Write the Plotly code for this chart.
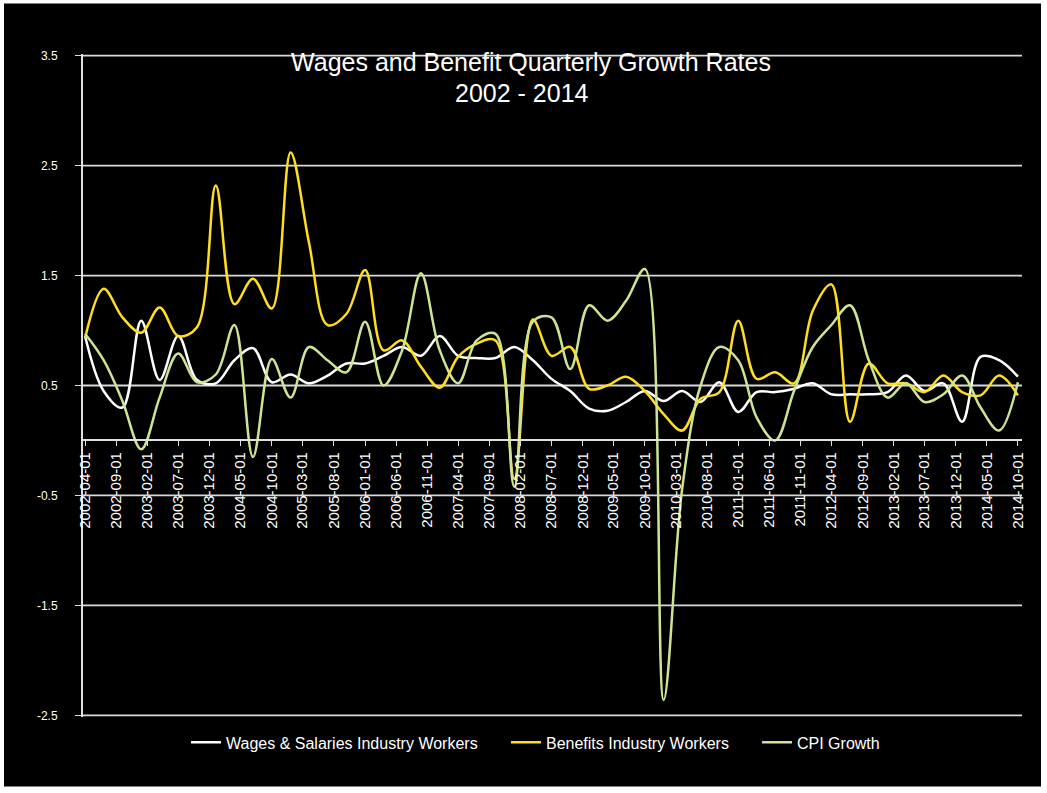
import pandas as pd
import plotly.graph_objects as go

# Quarterly observation dates (2002-04 .. 2014-10)
dates = pd.date_range("2002-04-01", "2014-10-01", freq="3MS")

wages = [0.95, 0.45, 0.30, 1.09, 0.55, 0.95, 0.55, 0.52, 0.73, 0.84,
         0.53, 0.60, 0.52, 0.59, 0.70, 0.70, 0.77, 0.85, 0.77, 0.95,
         0.77, 0.75, 0.75, 0.85, 0.73, 0.56, 0.45, 0.29, 0.27, 0.35,
         0.45, 0.36, 0.45, 0.35, 0.53, 0.26, 0.44, 0.44, 0.47, 0.52,
         0.42, 0.42, 0.42, 0.44, 0.59, 0.45, 0.52, 0.17, 0.76, 0.73,
         0.58]

benefits = [0.93, 1.38, 1.12, 0.98, 1.21, 0.95, 1.03, 2.32, 1.24, 1.47,
            1.20, 2.62, 1.80, 1.05, 1.15, 1.55, 0.82, 0.91, 0.67, 0.48,
            0.76, 0.88, 0.91, -0.35, 1.10, 0.77, 0.85, 0.47, 0.50, 0.58,
            0.45, 0.24, 0.09, 0.38, 0.44, 1.09, 0.56, 0.62, 0.52, 1.18,
            1.42, 0.17, 0.70, 0.52, 0.52, 0.44, 0.59, 0.44, 0.41, 0.59,
            0.41]

cpi = [0.97, 0.73, 0.36, -0.08, 0.39, 0.79, 0.53, 0.60, 1.05, -0.15,
       0.74, 0.39, 0.85, 0.73, 0.62, 1.08, 0.50, 0.82, 1.52, 0.82,
       0.52, 0.91, 0.97, -0.42, 1.08, 1.12, 0.65, 1.23, 1.09, 1.27,
       1.56, -2.36, -0.45, 0.50, 0.85, 0.73, 0.21, 0.00, 0.45, 0.85,
       1.05, 1.23, 0.73, 0.39, 0.52, 0.35, 0.42, 0.59, 0.30, 0.09,
       0.53]

series_names = ["Wages & Salaries Industry Workers",
                "Benefits Industry Workers",
                "CPI Growth"]
series_colors = ["#FFFFFF", "#FFDD22", "#CDE592"]
y_ticks = [-2.5, -1.5, -0.5, 0.5, 1.5, 2.5, 3.5]

title_line1 = "Wages and Benefit Quarterly Growth Rates"
title_line2 = "2002 - 2014"

FONT = "Liberation Sans, Arial, sans-serif"

# value range slightly padded so edge lines stay inside
Y0, Y1 = -2.515, 3.515
ppu = (715 - 56) / 6.0
L, R = 83, 1022
T = 56 - (Y1 - 3.5) * ppu
B = 715 + (-2.5 - Y0) * ppu
W, H = 1047, 793
pw, ph = R - L, B - T

def px_x(px):
    return (px - L) / pw

def px_y(py):
    return (B - py) / ph

fig = go.Figure()

# black chart panel inside thin white frame
fig.add_shape(type="rect", xref="paper", yref="paper",
              x0=px_x(4), x1=px_x(1041), y0=px_y(786), y1=px_y(4),
              fillcolor="black", line=dict(width=0), layer="below")

# horizontal gridlines at each y tick
for v in y_ticks:
    fig.add_shape(type="line", xref="paper", yref="y", x0=0, x1=1, y0=v, y1=v,
                  line=dict(color="#D9D9D9", width=1.8), layer="below")

legend_names = ["legend", "legend2", "legend3"]
legend_left_px = [186, 506, 757]
for name, vals, col, lg in zip(series_names, [wages, benefits, cpi],
                               series_colors, legend_names):
    fig.add_trace(go.Scatter(
        x=dates, y=vals, name=name, mode="lines", legend=lg,
        line=dict(color=col, width=2.5, shape="spline", smoothing=1.0),
    ))

legend_style = dict(orientation="h", xanchor="left", y=px_y(742),
                    yanchor="middle", font=dict(size=16, color="white", family=FONT),
                    bgcolor="rgba(0,0,0,0)", itemwidth=30)

fig.update_layout(
    width=W, height=H,
    margin=dict(l=L, r=W - R, t=T, b=H - B, autoexpand=False),
    paper_bgcolor="white",
    plot_bgcolor="rgba(0,0,0,0)",
    font=dict(family=FONT, color="white"),
    title=dict(text=title_line1,
               font=dict(size=25, color="white", family=FONT),
               x=531 / W, xanchor="center", xref="container",
               y=1 - 62 / H, yanchor="middle", yref="container"),
    legend=dict(x=px_x(legend_left_px[0]), **legend_style),
    legend2=dict(x=px_x(legend_left_px[1]), **legend_style),
    legend3=dict(x=px_x(legend_left_px[2]), **legend_style),
    showlegend=True,
)

fig.add_annotation(text=title_line2, xref="paper", yref="paper",
                   x=px_x(522), y=px_y(93), xanchor="center", yanchor="middle",
                   showarrow=False, font=dict(size=25, color="white", family=FONT))

fig.update_yaxes(
    range=[Y0, Y1], tickmode="array", tickvals=y_ticks,
    ticktext=[f"{v:.1f}" for v in y_ticks],
    showgrid=False, zeroline=False,
    showline=True, linecolor="#E0E0E0", linewidth=2,
    ticks="outside", ticklen=6, tickcolor="#E0E0E0",
    tickfont=dict(size=12, color="white", family=FONT),
    ticklabelstandoff=15,
)

fig.update_xaxes(
    type="date", range=["2002-03-22", "2014-10-21"],
    tickmode="linear", tick0="2002-04-01", dtick="M5",
    tickformat="%Y-%m-%d", tickangle=-90,
    showgrid=False, zeroline=False,
    showline=True, linecolor="#E0E0E0", linewidth=2,
    ticks="outside", ticklen=5, tickcolor="#E0E0E0",
    anchor="free", position=px_y(440),
    tickfont=dict(size=15, color="white", family=FONT),
)

fig.write_html("out.html", config={"displayModeBar": False},
               post_script="document.body.style.margin='0';")
